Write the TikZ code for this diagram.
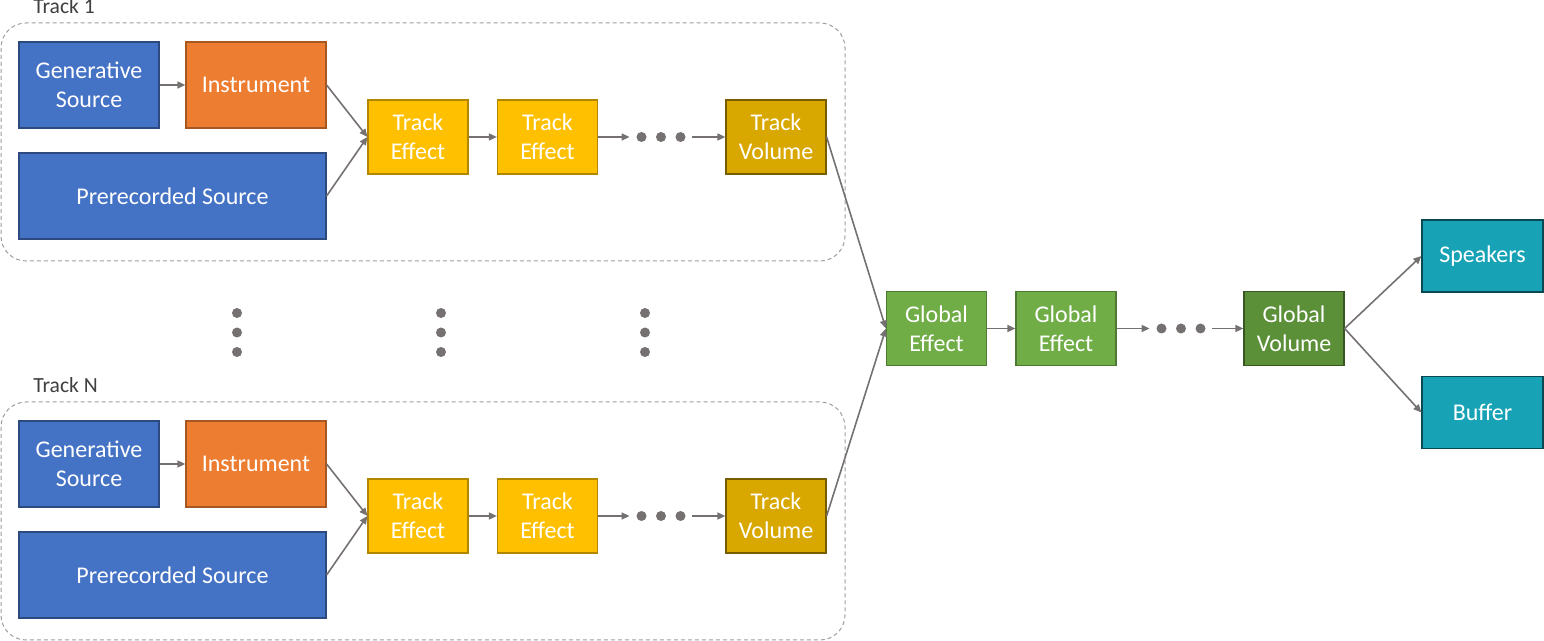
\documentclass[tikz,border=0pt]{standalone}
\usepackage{fontspec}
\setmainfont{Carlito}
\usepackage{xcolor}
\usetikzlibrary{arrows.meta}
\definecolor{srcblue}{HTML}{4472C4}
\definecolor{instorange}{HTML}{ED7D31}
\definecolor{fxyellow}{HTML}{FFC000}
\definecolor{volgold}{HTML}{D9A800}
\definecolor{fxgreen}{HTML}{70AD47}
\definecolor{volgreen}{HTML}{5B9039}
\definecolor{outteal}{HTML}{17A2B6}
\definecolor{linegray}{HTML}{767171}
\definecolor{labelgray}{HTML}{404040}
\tikzset{
  box/.style={draw, line width=0.6pt, text=white, align=center, inner sep=0pt,
    font=\fontsize{12}{14.5}\selectfont},
  srcbox/.style={box, fill=srcblue, draw=srcblue!65!black, minimum height=43pt},
  instbox/.style={box, fill=instorange, draw=instorange!70!black, minimum width=70pt, minimum height=43pt},
  fxbox/.style={box, fill=fxyellow, draw=fxyellow!70!black, minimum width=50pt, minimum height=37pt},
  tvolbox/.style={box, fill=volgold, draw=volgold!55!black, minimum width=50pt, minimum height=37pt},
  gfxbox/.style={box, fill=fxgreen, draw=fxgreen!70!black, minimum width=50pt, minimum height=37pt},
  gvolbox/.style={box, fill=volgreen, draw=volgreen!60!black, minimum width=50pt, minimum height=37pt},
  outbox/.style={box, fill=outteal, draw=outteal!45!black, minimum width=60.5pt, minimum height=36pt},
  dotsbox/.style={inner sep=0pt, minimum width=31pt, minimum height=6pt},
  conn/.style={draw=linegray, line width=0.8pt, -{Triangle[length=4pt,width=3.5pt]}},
  trackframe/.style={draw=linegray!70, line width=0.5pt, dash pattern=on 2pt off 1.5pt, rounded corners=12.5pt},
  tracklabel/.style={anchor=base west, text=labelgray, inner sep=0pt, font=\fontsize{10.8}{13}\selectfont}
}

\begin{document}
\begin{tikzpicture}[x=0.5pt, y=-0.5pt]
\useasboundingbox (0,0) rectangle (1544,641);

\node[gfxbox] (ge1) at (936.5,328.5) {Global\\Effect};
\node[gfxbox] (ge2) at (1066,328.5) {Global\\Effect};
\node[dotsbox] (gdots) at (1181,328.5) {};
\node[gvolbox] (gv) at (1294,328.5) {Global\\Volume};
\node[outbox] (spk) at (1482.5,256) {Speakers};
\node[outbox] (buf) at (1482.5,412.5) {Buffer};

\fill[linegray] (gdots) +(-19.5,0) circle (2.5pt) +(0,0) circle (2.5pt) +(19.5,0) circle (2.5pt);
\draw[conn] (ge1) -- (ge2);
\draw[conn] (ge2) -- (gdots);
\draw[conn] (gdots) -- (gv);
\draw[conn] (gv.east) -- (spk.west);
\draw[conn] (gv.east) -- (buf.west);

\foreach \t/\y/\lab in {1/0/{Track 1},N/379/{Track N}} {
  \draw[trackframe] (1,23+\y) rectangle (845,261+\y);
  \node[tracklabel] (lab\t) at (33,14+\y) {\lab};
  \node[srcbox, minimum width=70pt] (gs\t) at (89,85+\y) {Generative\\Source};
  \node[instbox] (in\t) at (256,85+\y) {Instrument};
  \node[srcbox, minimum width=153.5pt] (pr\t) at (172.5,196+\y) {Prerecorded Source};
  \node[fxbox] (tea\t) at (418,137+\y) {Track\\Effect};
  \node[fxbox] (teb\t) at (547.5,137+\y) {Track\\Effect};
  \node[dotsbox] (dots\t) at (661,137+\y) {};
  \node[tvolbox] (tv\t) at (776,137+\y) {Track\\Volume};
  \fill[linegray] (dots\t) +(-19.5,0) circle (2.5pt) +(0,0) circle (2.5pt) +(19.5,0) circle (2.5pt);
  \draw[conn] (gs\t) -- (in\t);
  \draw[conn] (in\t.east) -- (tea\t.west);
  \draw[conn] (pr\t.east) -- (tea\t.west);
  \draw[conn] (tea\t) -- (teb\t);
  \draw[conn] (teb\t) -- (dots\t);
  \draw[conn] (dots\t) -- (tv\t);
  \draw[conn] (tv\t.east) -- (ge1.west);
}

\foreach \x in {237,441,645}
  \fill[linegray] (\x,313) circle (2.5pt) (\x,332.5) circle (2.5pt) (\x,352) circle (2.5pt);
\end{tikzpicture}
\end{document}
